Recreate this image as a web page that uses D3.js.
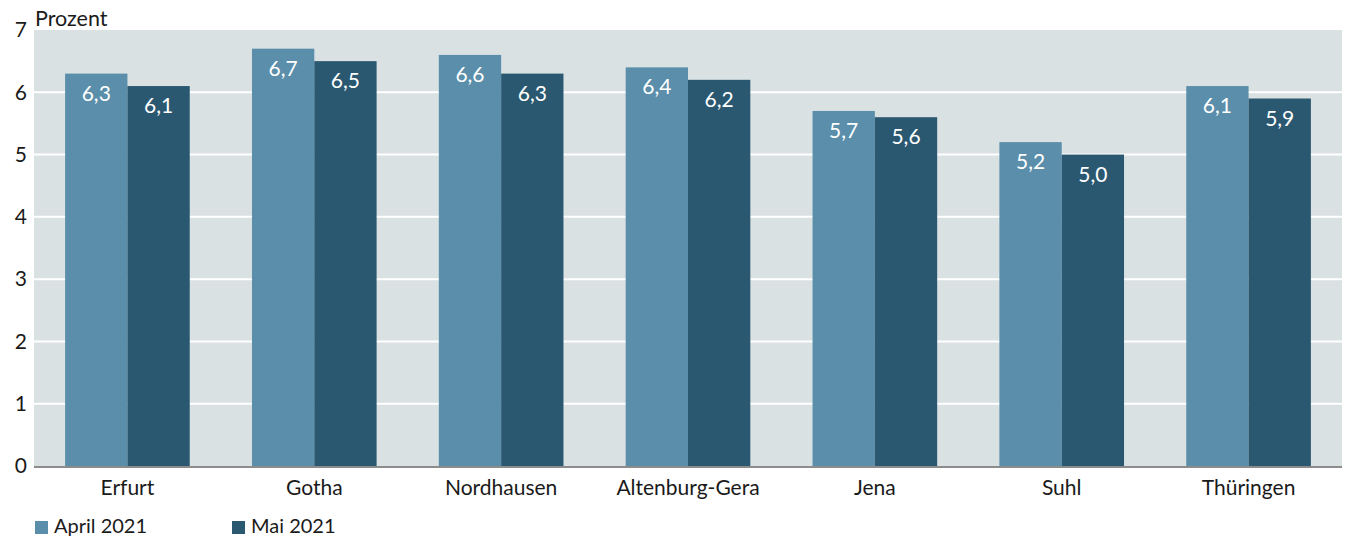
<!DOCTYPE html>
<html>
<head>
<meta charset="utf-8">
<script src="https://cdn.jsdelivr.net/npm/d3@7"></script>
<style>
  body { margin: 0; background: #ffffff; }
  text { font-family: Lato, "Noto Sans", sans-serif; }
</style>
</head>
<body>
<div id="my_dataviz"></div>
<script>
// data
var regions = ["Erfurt", "Gotha", "Nordhausen", "Altenburg-Gera", "Jena", "Suhl", "Thüringen"];
var seriesNames = ["April 2021", "Mai 2021"];
var april = [6.3, 6.7, 6.6, 6.4, 5.7, 5.2, 6.1];
var mai = [6.1, 6.5, 6.3, 6.2, 5.6, 5.0, 5.9];
var yTicks = [0, 1, 2, 3, 4, 5, 6, 7];

var colors = ["#5a8eaa", "#2a5870"];

var data = regions.map(function(r, i) {
  return { region: r, values: [april[i], mai[i]] };
});

// dimensions and margins
var margin = {top: 30, right: 4, bottom: 71, left: 34},
    width = 1346 - margin.left - margin.right,
    height = 537 - margin.top - margin.bottom;

var svg = d3.select("#my_dataviz")
  .append("svg")
    .attr("width", 1346)
    .attr("height", 537)
  .append("g")
    .attr("transform", "translate(" + margin.left + "," + margin.top + ")");

// scales
var x = d3.scaleBand()
  .domain(regions)
  .range([0, width])
  .paddingInner(0.333)
  .paddingOuter(0.1665);

var xSub = d3.scaleBand()
  .domain(seriesNames)
  .range([0, x.bandwidth()]);

var y = d3.scaleLinear()
  .domain([0, 7])
  .range([height, 0]);

// plot background
svg.append("rect")
  .attr("width", width)
  .attr("height", height)
  .attr("fill", "#d9e1e3");

// white grid lines
svg.append("g")
  .selectAll("line")
  .data(yTicks.filter(function(d) { return d > 0 && d < 7; }))
  .enter()
  .append("line")
    .attr("x1", 0)
    .attr("x2", width)
    .attr("y1", function(d) { return y(d); })
    .attr("y2", function(d) { return y(d); })
    .attr("stroke", "#ffffff")
    .attr("stroke-width", 2);

// bars
var groups = svg.append("g")
  .selectAll("g")
  .data(data)
  .enter()
  .append("g")
    .attr("transform", function(d) { return "translate(" + x(d.region) + ",0)"; });

groups.selectAll("rect")
  .data(function(d) { return d.values.map(function(v, i) { return {key: seriesNames[i], value: v, i: i}; }); })
  .enter()
  .append("rect")
    .attr("x", function(d) { return xSub(d.key); })
    .attr("y", function(d) { return y(d.value); })
    .attr("width", xSub.bandwidth())
    .attr("height", function(d) { return height - y(d.value); })
    .attr("fill", function(d) { return colors[d.i]; });

// value labels inside the bars
groups.selectAll("text")
  .data(function(d) { return d.values.map(function(v, i) { return {key: seriesNames[i], value: v}; }); })
  .enter()
  .append("text")
    .attr("x", function(d) { return xSub(d.key) + xSub.bandwidth() / 2; })
    .attr("y", function(d) { return y(d.value) + 27; })
    .attr("text-anchor", "middle")
    .attr("fill", "#ffffff")
    .style("font-size", "21px")
    .text(function(d) { return d3.format(".1f")(d.value).replace(".", ","); });

// baseline
svg.append("line")
  .attr("x1", 0)
  .attr("x2", width)
  .attr("y1", height + 1)
  .attr("y2", height + 1)
  .attr("stroke", "#8c8c8c")
  .attr("stroke-width", 2);

// Y axis labels
var yAxis = svg.append("g")
  .call(d3.axisLeft(y).tickValues(yTicks).tickFormat(d3.format("d")).tickSize(0).tickPadding(7));
yAxis.select(".domain").remove();
yAxis.selectAll("text")
  .style("font-size", "21px")
  .attr("fill", "#1a1a1a")
  .style("font-family", "Lato, 'Noto Sans', sans-serif");

// X axis labels
var xAxis = svg.append("g")
  .attr("transform", "translate(0," + height + ")")
  .call(d3.axisBottom(x).tickSize(0).tickPadding(14));
xAxis.select(".domain").remove();
xAxis.selectAll("text")
  .style("font-size", "21px")
  .attr("fill", "#1a1a1a")
  .style("font-family", "Lato, 'Noto Sans', sans-serif");

// unit label
svg.append("text")
  .attr("x", 1)
  .attr("y", -4)
  .attr("fill", "#1a1a1a")
  .style("font-size", "21.5px")
  .text("Prozent");

// legend
var legend = svg.append("g")
  .attr("transform", "translate(1," + (height + 55) + ")")
  .selectAll("g")
  .data(seriesNames)
  .enter()
  .append("g")
    .attr("transform", function(d, i) { return "translate(" + (i * 197) + ",0)"; });

legend.append("rect")
  .attr("width", 13)
  .attr("height", 13)
  .attr("fill", function(d, i) { return colors[i]; });

legend.append("text")
  .attr("x", 19)
  .attr("y", 12)
  .attr("fill", "#1a1a1a")
  .style("font-size", "20px")
  .text(function(d) { return d; });
</script>
</body>
</html>
